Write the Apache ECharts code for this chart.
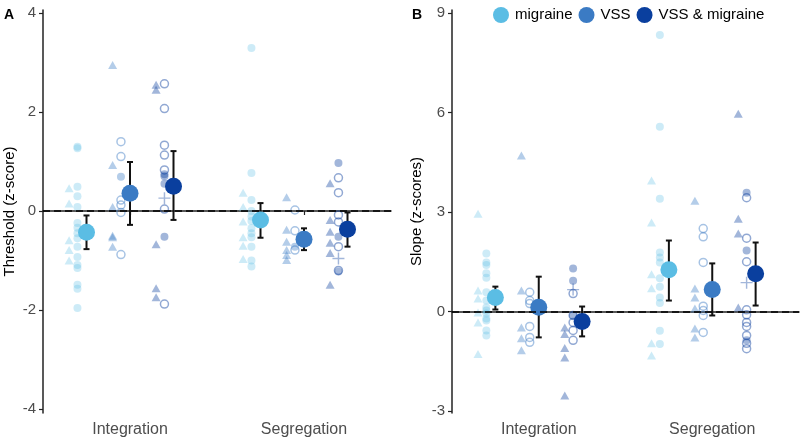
<!DOCTYPE html>
<html>
<head>
<meta charset="utf-8">
<script src="https://cdn.jsdelivr.net/npm/echarts@6/dist/echarts.min.js"></script>
<style>html,body{margin:0;padding:0;background:#fff}#c{width:800px;height:438px}</style>
</head>
<body>
<div id="c"></div>
<script>
// ---------- data ----------
const categories = ['Integration', 'Segregation'];
const groups = ['migraine', 'VSS', 'VSS & migraine'];
const thresholdTicks = [-4, -2, 0, 2, 4];
const slopeTicks = [-3, 0, 3, 6, 9];

// raw points: [shape, value]; t = triangle, c = filled circle, o = open circle, p = plus
const thrIntMigraine = [['t',0.46],['t',0.15],['t',-0.59],['t',-0.79],['t',-1.0],
  ['c',1.30],['c',1.27],['c',0.49],['c',0.30],['c',0.08],['c',-0.24],['c',-0.34],['c',-0.45],['c',-0.55],
  ['c',-0.72],['c',-0.93],['c',-1.09],['c',-1.15],['c',-1.49],['c',-1.57],['c',-1.96]];
const thrIntVSS = [['t',2.95],['t',0.93],['t',0.08],['t',-0.50],['t',-0.53],['t',-0.72],
  ['c',0.69],['o',1.40],['o',1.10],['o',0.22],['o',0.12],['o',-0.03],['o',-0.88]];
const thrIntBoth = [['t',2.55],['t',2.45],['t',-0.67],['t',-1.56],['t',-1.74],
  ['c',0.74],['c',0.70],['c',0.55],['c',-0.52],
  ['o',2.57],['o',2.07],['o',1.33],['o',1.13],['o',0.83],['o',0.04],['o',-1.88],['p',0.26]];
const thrSegMigraine = [['t',0.37],['t',0.08],['t',-0.21],['t',-0.53],['t',-0.70],['t',-0.97],
  ['c',3.29],['c',0.77],['c',0.22],['c',0.0],['c',-0.11],['c',-0.20],['c',-0.35],['c',-0.45],['c',-0.53],
  ['c',-0.72],['c',-1.00],['c',-1.12]];
const thrSegVSS = [['t',0.28],['t',-0.38],['t',-0.62],['t',-0.79],['t',-0.89],['t',-0.99],
  ['c',-0.72],['o',0.02],['o',-0.40],['o',-0.79]];
const thrSegBoth = [['t',0.56],['t',-0.18],['t',-0.42],['t',-0.64],['t',-0.85],['t',-1.49],
  ['c',0.97],['c',-0.52],['c',-1.22],
  ['o',0.67],['o',0.37],['o',-0.08],['o',-0.22],['o',-0.72],['o',-1.20],['p',-0.96]];

const slpIntMigraine = [['t',2.95],['t',0.63],['t',0.39],['t',-0.03],['t',-0.33],['t',-1.28],
  ['c',1.75],['c',1.48],['c',1.40],['c',1.15],['c',1.02],['c',0.58],['c',0.33],['c',0.12],['c',0.03],
  ['c',-0.06],['c',-0.21],['c',-0.27],['c',-0.57],['c',-0.72]];
const slpIntVSS = [['t',4.70],['t',0.63],['t',-0.48],['t',-0.81],['t',-1.17],
  ['o',0.58],['o',0.33],['o',0.24],['o',-0.45],['o',-0.78],['o',-0.93]];
const slpIntBoth = [['t',-0.48],['t',-0.68],['t',-1.10],['t',-1.39],['t',-2.53],
  ['c',1.30],['c',0.93],['c',-0.12],
  ['o',0.54],['o',-0.33],['o',-0.57],['o',-0.87],['o',-0.12],['p',0.66]];
const slpSegMigraine = [['t',3.95],['t',2.68],['t',1.12],['t',0.70],['t',-0.96],['t',-1.33],
  ['c',8.34],['c',5.57],['c',3.40],['c',1.78],['c',1.63],['c',1.48],['c',1.00],['c',0.75],['c',0.42],
  ['c',0.26],['c',-0.58],['c',-0.98]];
const slpSegVSS = [['t',3.34],['t',0.69],['t',0.42],['t',0.09],['t',-0.51],['t',-0.78],
  ['o',2.50],['o',2.25],['o',1.48],['o',0.16],['o',0.03],['o',-0.12],['o',-0.63]];
const slpSegBoth = [['t',5.96],['t',2.80],['t',2.35],['t',0.12],
  ['c',3.58],['c',1.84],['c',-0.87],
  ['o',3.43],['o',2.21],['o',1.50],['o',0.05],['o',-0.10],['o',-0.33],['o',-0.45],['o',-0.72],['o',-0.96],['o',-1.12],
  ['p',0.87]];

// means and error bars: [category][group]
const thrMean = [[-0.43, 0.36, 0.50], [-0.18, -0.57, -0.37]];
const thrLow  = [[-0.77, -0.28, -0.18], [-0.54, -0.79, -0.72]];
const thrHigh = [[-0.09, 0.99, 1.21], [0.16, -0.35, -0.03]];
const slpMean = [[0.42, 0.13, -0.30], [1.26, 0.66, 1.14]];
const slpLow  = [[0.06, -0.78, -0.75], [0.33, -0.12, 0.18]];
const slpHigh = [[0.75, 1.05, 0.15], [2.14, 1.45, 2.08]];

// ---------- styling ----------
const groupColors = ['#5bbde4', '#3b7bc4', '#0a3f9e'];
const dodge = [-0.25, 0, 0.25];
const shapeShift = { t: -0.10, c: -0.052, o: -0.052, p: -0.052 };
const plusPath = 'path://M-0.12,-1H0.12V-0.12H1V0.12H0.12V1H-0.12V0.12H-1V-0.12H-0.12Z';
const FONT = 'Liberation Sans, Arial, sans-serif';

function rawSeries(p, raw) {
  const out = [];
  raw.forEach((cat, ci) => cat.forEach((pts, gi) => {
    const col = groupColors[gi];
    const data = pts.map(([s, v]) => {
      const item = { value: [ci + 1 + dodge[gi] + shapeShift[s], v] };
      if (s === 't') { item.symbol = 'triangle'; item.symbolSize = [9, 8]; }
      else if (s === 'p') { item.symbol = plusPath; item.symbolSize = 12; }
      else { item.symbol = 'circle'; item.symbolSize = 8; }
      if (s === 'o') item.itemStyle = { color: 'rgba(255,255,255,0)', borderColor: col, borderWidth: 1.5, opacity: gi === 0 ? 0.4 : 0.45 };
      else item.itemStyle = { color: col, opacity: gi === 0 ? 0.3 : 0.38 };
      return item;
    });
    out.push({ type: 'scatter', xAxisIndex: p, yAxisIndex: p, data, z: 2, silent: true, animation: false });
  }));
  return out;
}

function zeroLine(p) {
  return {
    type: 'scatter', xAxisIndex: p, yAxisIndex: p, data: [], z: 1, silent: true, animation: false,
    markLine: {
      silent: true, symbol: ['none', 'none'], label: { show: false }, animation: false,
      lineStyle: { type: [7, 4], color: '#000', width: 1.5 },
      emphasis: { disabled: true },
      data: [{ yAxis: 0 }]
    }
  };
}

function errorSeries(p, low, high) {
  const data = [];
  low.forEach((row, ci) => row.forEach((lo, gi) => data.push([ci + 1 + dodge[gi], lo, high[ci][gi]])));
  return {
    type: 'custom', xAxisIndex: p, yAxisIndex: p, z: 3, silent: true, animation: false,
    data,
    renderItem: (params, api) => {
      const x = api.value(0);
      const a = api.coord([x, api.value(2)]);
      const b = api.coord([x, api.value(1)]);
      const st = { stroke: '#111', lineWidth: 2 };
      return { type: 'group', children: [
        { type: 'line', shape: { x1: a[0], y1: a[1], x2: b[0], y2: b[1] }, style: st },
        { type: 'line', shape: { x1: a[0] - 3, y1: a[1], x2: a[0] + 3, y2: a[1] }, style: st },
        { type: 'line', shape: { x1: b[0] - 3, y1: b[1], x2: b[0] + 3, y2: b[1] }, style: st }
      ] };
    }
  };
}

function meanSeries(p, mean) {
  return groups.map((g, gi) => ({
    type: 'scatter', name: g, xAxisIndex: p, yAxisIndex: p, z: 4, animation: false,
    symbol: 'circle', symbolSize: 17,
    itemStyle: { color: groupColors[gi], opacity: 1 },
    data: mean.map((row, ci) => [ci + 1 + dodge[gi], row[gi]])
  }));
}

function xAxis(p) {
  return {
    type: 'value', gridIndex: p, min: 0.5, max: 2.5,
    splitLine: { show: false },
    axisLine: { show: true, lineStyle: { color: '#222', width: 1.5 } },
    axisTick: { show: true, length: 4, customValues: [1, 2], lineStyle: { color: '#222', width: 1.2 } },
    axisLabel: { customValues: [1, 2], formatter: v => categories[Math.round(v) - 1], fontSize: 16, color: '#4d4d4d', margin: 9, fontFamily: FONT }
  };
}

function yAxis(p, min, max, ticks, name, gap) {
  return {
    type: 'value', gridIndex: p, min, max, name, nameLocation: 'middle', nameGap: gap,
    nameTextStyle: { fontSize: 15, color: '#000', fontFamily: FONT },
    splitLine: { show: false },
    axisLine: { show: true, lineStyle: { color: '#222', width: 1.5 } },
    axisTick: { show: true, length: 4, customValues: ticks, lineStyle: { color: '#222', width: 1.2 } },
    axisLabel: { customValues: ticks, formatter: v => String(v), fontSize: 15, color: '#4d4d4d', margin: 7, fontFamily: FONT }
  };
}

const chart = echarts.init(document.getElementById('c'), null, { renderer: 'canvas' });
chart.setOption({
  animation: false,
  backgroundColor: '#fff',
  textStyle: { fontFamily: FONT },
  legend: {
    data: groups, icon: 'circle', left: 488, top: 2, itemWidth: 18, itemHeight: 16, itemGap: 6,
    textStyle: { fontSize: 15, color: '#000', fontFamily: FONT }, selectedMode: false
  },
  grid: [
    { left: 43, right: 409, top: 10, bottom: 25 },
    { left: 452, right: 1, top: 10, bottom: 25 }
  ],
  xAxis: [xAxis(0), xAxis(1)],
  yAxis: [
    yAxis(0, -4.08, 4.06, thresholdTicks, 'Threshold (z-score)', 26),
    yAxis(1, -3.06, 9.09, slopeTicks, 'Slope (z-scores)', 28)
  ],
  graphic: [
    { type: 'text', left: 4, top: 8, style: { text: 'A', font: 'bold 14px ' + FONT, fill: '#000' } },
    { type: 'text', left: 412, top: 8, style: { text: 'B', font: 'bold 14px ' + FONT, fill: '#000' } }
  ],
  series: [
    zeroLine(0), zeroLine(1),
    ...rawSeries(0, [[thrIntMigraine, thrIntVSS, thrIntBoth], [thrSegMigraine, thrSegVSS, thrSegBoth]]),
    ...rawSeries(1, [[slpIntMigraine, slpIntVSS, slpIntBoth], [slpSegMigraine, slpSegVSS, slpSegBoth]]),
    errorSeries(0, thrLow, thrHigh),
    errorSeries(1, slpLow, slpHigh),
    ...meanSeries(0, thrMean),
    ...meanSeries(1, slpMean)
  ]
});
</script>
</body>
</html>
